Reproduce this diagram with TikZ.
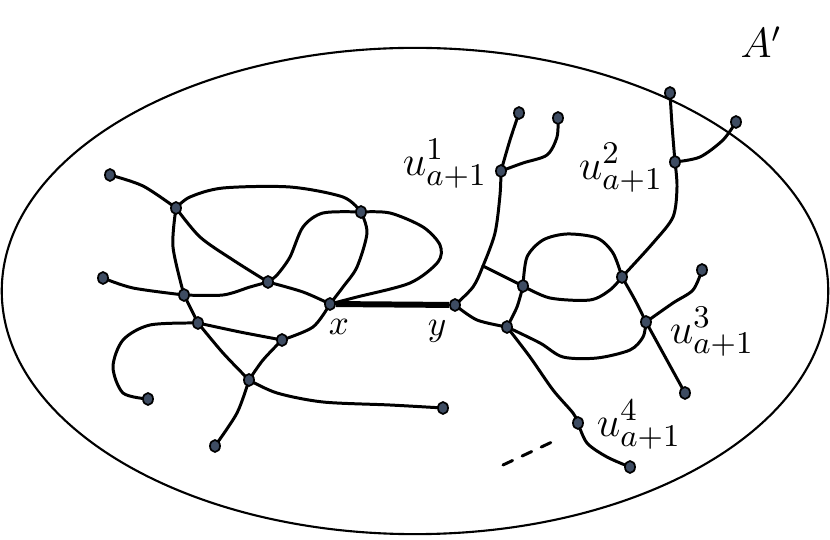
\documentclass[tikz,border=0pt]{standalone}
\usetikzlibrary{shapes.geometric,backgrounds}
\definecolor{vfill}{RGB}{62,76,98}
\tikzset{
    vtx/.style={ellipse, draw, fill=vfill, line width=0.5pt, inner sep=0pt,
                minimum width=0.1cm, minimum height=0.12cm},
    link/.style={line width=0.85pt, line cap=round},
    bridge/.style={line width=1.7pt},
    region/.style={ellipse, draw, line width=0.6pt, inner sep=0pt,
                   minimum width=8.26cm, minimum height=4.86cm},
    ulabel/.style={font=\fontsize{13}{15}\selectfont, inner sep=0pt},
    plabel/.style={inner sep=1pt},
}
\newcommand{\curve}[1]{\draw[link] plot[smooth] coordinates {#1};}

\begin{document}
\begin{tikzpicture}[x=0.01cm, y=-0.01cm]
    \useasboundingbox (0,0) rectangle (830,540);

    \node[region] (setA) at (415,291) {};
    \node[font=\large] (nameA) at (761,42) {$A'$};

    % left part
    \node[vtx] (l1) at (110,175) {};
    \node[vtx] (a) at (176,208) {};
    \node[vtx] (b) at (361,212) {};
    \node[vtx] (l2) at (103,278) {};
    \node[vtx] (c) at (268,282) {};
    \node[vtx] (d) at (184,295) {};
    \node[vtx] (x) at (330,304) {};
    \node[vtx] (f) at (198,323) {};
    \node[vtx] (g) at (282,340) {};
    \node[vtx] (h) at (249,380) {};
    \node[vtx] (l3) at (148,399) {};
    \node[vtx] (l4) at (443,408) {};
    \node[vtx] (l5) at (215,446) {};

    % right part
    \node[vtx] (y) at (455,305) {};
    \node[vtx] (u1) at (501,171) {};
    \node[vtx] (m1) at (519,113) {};
    \node[vtx] (m2) at (558,118) {};
    \node[vtx] (u2) at (675,162) {};
    \node[vtx] (m3) at (670,93) {};
    \node[vtx] (m4) at (736,122) {};
    \node[vtx] (p) at (523,286) {};
    \node[vtx] (q) at (622,277) {};
    \node[vtx] (r) at (507,327) {};
    \node[vtx] (u3) at (646,322) {};
    \node[vtx] (m5) at (702,270) {};
    \node[vtx] (m6) at (685,393) {};
    \node[vtx] (u4) at (578,423) {};
    \node[vtx] (m7) at (630,467) {};
    \coordinate (j) at (483,266);
    \coordinate (dash1) at (503,465);
    \coordinate (dash2) at (552,442);

    \node[plabel] (xl) at (339,327) {$x$};
    \node[plabel] (yl) at (437,331) {$y$};
    \node[ulabel] (ul1) at (445,164) {$u^1_{a+1}$};
    \node[ulabel] (ul2) at (621,168) {$u^2_{a+1}$};
    \node[ulabel] (ul3) at (712,332) {$u^3_{a+1}$};
    \node[ulabel] (ul4) at (639,425) {$u^4_{a+1}$};

    \begin{scope}[on background layer]
        \curve{(l1) (143,186) (a)}
        \curve{(a) (190,197) (223,188) (290,187) (343,197) (b)}
        \curve{(b) (323,213) (303,227) (290,257) (277,275) (c)}
        \curve{(b) (390,213) (423,227) (440,245) (438,262) (410,283) (357,297) (x)}
        \curve{(b) (367,233) (357,267) (343,287) (x)}
        \curve{(a) (173,247) (d)}
        \curve{(a) (200,237) (233,260) (c)}
        \curve{(c) (303,292) (x)}
        \curve{(l2) (133,288) (d)}
        \curve{(d) (223,295) (250,287) (c)}
        \curve{(d) (f)}
        \curve{(f) (223,353) (h)}
        \curve{(f) (240,332) (g)}
        \curve{(f) (150,325) (123,340) (113,367) (123,393) (l3)}
        \curve{(g) (313,327) (x)}
        \curve{(g) (263,360) (h)}
        \curve{(h) (277,393) (323,402) (390,405) (l4)}
        \curve{(h) (237,413) (l5)}

        \curve{(y) (473,287) (j) (495,233) (500,195) (u1)}
        \curve{(j) (p)}
        \curve{(u1) (510,140) (m1)}
        \curve{(u1) (523,163) (547,155) (557,137) (m2)}
        \curve{(u2) (672,125) (m3)}
        \curve{(u2) (700,157) (723,140) (m4)}
        \curve{(q) (653,243) (673,217) (677,187) (u2)}
        \curve{(p) (550,298) (590,300) (610,290) (q)}
        \curve{(p) (527,257) (543,240) (567,234) (597,238) (613,253) (q)}
        \curve{(p) (517,307) (r)}
        \curve{(y) (477,320) (r)}
        \curve{(q) (635,300) (u3)}
        \curve{(u3) (673,303) (693,290) (m5)}
        \curve{(u3) (663,353) (m6)}
        \curve{(r) (540,343) (563,357) (597,358) (630,350) (643,337) (u3)}
        \curve{(r) (530,357) (553,390) (573,413) (u4)}
        \curve{(u4) (587,443) (607,457) (m7)}
    \end{scope}

    \draw[bridge] (x) -- (y);
    \draw[link, dashed] (dash1) -- (dash2);

\end{tikzpicture}
\end{document}
